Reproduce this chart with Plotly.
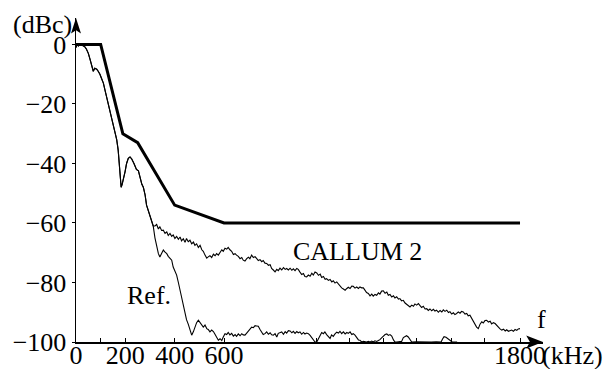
import plotly.graph_objects as go

# ---------------- data ----------------
# spectral mask (thick line)
mask_x = [0, 100, 190, 250, 400, 600, 1800]
mask_y = [0, 0, -30, -33, -54, -60, -60]

# part shared by both measured spectra
common_x = [0, 5, 10, 16, 25, 36, 42, 50, 57, 64, 70, 76, 84, 90, 97, 104, 111, 118, 124,
            131, 138, 145, 152, 158, 165, 171, 176, 180, 183, 187, 192, 199, 205, 212, 219,
            226, 235, 245, 253, 260, 267, 273, 280, 286, 293, 300, 307, 313]
common_y = [-1, 0, -0.5, 0, -0.3, -0.8, -1.5, -3, -5, -7.5, -9, -8, -8.3, -9, -10, -11.5, -13,
            -15.5, -17.6, -20, -22, -24.3, -26.5, -28.8, -32, -35.5, -41, -44.5, -48, -47,
            -45.5, -42.7, -40, -38.3, -37.8, -38.5, -40, -42, -42.5, -45, -47, -48, -50.5,
            -54, -55.7, -57.5, -59.6, -61]

# CALLUM 2 spectrum beyond the split
callum_x = [320, 327, 334, 340, 347, 354, 361, 368, 374, 381, 388, 394, 401, 408, 415, 422,
            428, 435, 442, 448, 455, 462, 469, 476, 482, 489, 496, 503, 510, 516, 523, 530,
            536, 543, 550, 557, 564, 570, 577, 584, 591, 597, 604, 611, 617, 624, 631, 638,
            645, 651, 658, 665, 672, 678, 685, 692, 699, 705, 712, 719, 726, 732, 739, 746,
            753, 759, 766, 773, 780, 787, 793, 800, 807, 814, 820, 827, 834, 841, 848, 854,
            861, 868, 875, 881, 888, 895, 901, 908, 915, 922, 928, 935, 942, 949, 956, 962,
            969, 976, 983, 990, 996, 1003, 1010, 1016, 1023, 1030, 1037, 1043, 1050, 1057,
            1064, 1070, 1077, 1084, 1091, 1098, 1104, 1111, 1118, 1124, 1131, 1138, 1145,
            1151, 1158, 1165, 1172, 1178, 1185, 1192, 1199, 1205, 1212, 1219, 1226, 1232,
            1239, 1246, 1253, 1260, 1266, 1273, 1280, 1287, 1293, 1300, 1307, 1313, 1320,
            1327, 1334, 1340, 1347, 1354, 1361, 1368, 1374, 1381, 1388, 1395, 1401, 1408,
            1415, 1422, 1428, 1435, 1442, 1449, 1455, 1462, 1469, 1476, 1483, 1489, 1496,
            1503, 1510, 1516, 1523, 1530, 1536, 1543, 1550, 1557, 1563, 1570, 1577, 1584,
            1590, 1597, 1604, 1611, 1617, 1624, 1631, 1638, 1645, 1651, 1658, 1665, 1672,
            1679, 1685, 1692, 1699, 1706, 1712, 1719, 1726, 1733, 1740, 1746, 1753, 1759,
            1766, 1773, 1780, 1787, 1793, 1800]
callum_y = [-61, -60.5, -62, -61.3, -62.5, -62.4, -63.5, -63, -64.2, -63.5, -64.5, -64, -65.2,
            -64.5, -65.5, -64.7, -66, -65.3, -66.5, -65.2, -66.3, -65.8, -67, -66.4, -67.5,
            -67, -68.2, -67.5, -69, -69.5, -70.8, -71.8, -71.4, -71, -71.6, -70.5, -71,
            -70.3, -70.8, -69.7, -69, -69.5, -68.5, -68.8, -68.2, -69, -69.5, -70.6, -70.3,
            -70.8, -71.2, -72, -71.6, -72.5, -72.8, -72, -71.5, -72, -70.8, -71.6, -71.3,
            -71.9, -72.6, -72.3, -73, -72.6, -73.5, -73.6, -74.2, -74, -75.3, -75.8, -76.4,
            -75.6, -76, -75.2, -75.8, -75, -75.6, -75.3, -75.8, -75.2, -75.9, -75.4, -76,
            -75.3, -75.6, -76.5, -77.3, -77, -78, -78.1, -77.5, -77.9, -76.9, -77.5, -76.5,
            -76.8, -77.6, -77.2, -78.3, -78, -78.9, -78.7, -79.3, -79, -79.8, -79.4, -80.2,
            -79.8, -80.6, -81, -81.8, -82.2, -82.6, -82, -81.6, -82, -81.2, -81.3, -81.9,
            -81.5, -82, -81.5, -81.8, -81.8, -82.6, -83.4, -83.7, -84.5, -83.9, -84.6, -84,
            -84.3, -83.5, -83.9, -82.9, -82.8, -83.6, -83.2, -84.3, -84, -84.9, -84.5, -85.2,
            -84.8, -85.6, -85.4, -86.2, -86, -86.9, -87.3, -87.8, -88.2, -87.6, -88, -87.2,
            -87.6, -87.1, -87.8, -88.4, -88, -88.9, -88.8, -89.4, -88.9, -89.5, -89, -89.6,
            -89.3, -90, -89.4, -89.9, -89.2, -89.7, -89.3, -90.1, -89.8, -90.6, -90.2, -90.8,
            -90.4, -89.9, -90.3, -89.7, -89.9, -90.6, -90.4, -91.2, -91, -92, -93.5, -94.2,
            -95, -95.5, -94, -93.2, -93.6, -92.8, -92.7, -93.3, -93, -93.9, -93.5, -93.8,
            -94.5, -95.2, -95.6, -96, -95.7, -96.3, -95.9, -96.4, -96.3, -96, -96.4, -95.8,
            -96.1, -95.6, -95.5]

# Reference spectrum beyond the split
ref_x = [320, 327, 334, 340, 347, 354, 361, 368, 374, 381, 388, 394, 401, 408, 415, 422, 428,
         435, 442, 448, 455, 462, 469, 476, 482, 489, 496, 503, 510, 516, 523, 530, 536, 543,
         550, 557, 564, 570, 577, 584, 591, 597, 604, 611, 617, 624, 631, 638, 645, 651, 658,
         665, 672, 678, 685, 692, 699, 705, 712, 719, 726, 732, 739, 746, 753, 759, 766, 773,
         780, 787, 793, 800, 807, 814, 820, 827, 834, 841, 848, 854, 861, 868, 875, 881, 888,
         895, 901, 908, 915, 922, 928, 935, 942, 949, 956, 962, 969, 976, 983, 990, 996, 1003,
         1009, 1016, 1023, 1030, 1036, 1043, 1050, 1057, 1064, 1070, 1077, 1084, 1091, 1098,
         1104, 1111, 1118, 1124, 1131, 1138, 1145, 1151, 1158, 1165, 1172, 1178, 1185, 1192,
         1199, 1205, 1212, 1219, 1226, 1232, 1240, 1246, 1253, 1260, 1266, 1273, 1280, 1287,
         1293, 1300, 1310, 1320, 1327, 1334, 1340, 1347, 1354, 1361, 1380, 1400, 1420, 1440,
         1460, 1480, 1486, 1492, 1500, 1508, 1516, 1525, 1545]
ref_y = [-65, -68, -70.3, -71.4, -70, -69.1, -69.8, -70.3, -71.2, -72, -72.5, -74.8, -76,
         -77.5, -80, -82.5, -85, -88, -90, -92.5, -94, -95.5, -97.7, -96.5, -95, -93.5, -92.7,
         -93.5, -94.5, -95, -94.3, -95.5, -95.8, -96.6, -96, -96.5, -97.5, -98.3, -99.4,
         -98.9, -99.5, -98.3, -97.2, -97.5, -96.8, -97.6, -97.1, -98, -97.5, -98.1, -97.3,
         -97.9, -97.2, -97.6, -97.7, -97, -96.3, -95.5, -95, -95.2, -94.5, -94.6, -94.7,
         -95.8, -96.8, -97.5, -97.2, -96.6, -97.4, -96.9, -97.6, -97.7, -97.2, -98.3, -97.1,
         -96.8, -96.6, -97.4, -96.5, -97, -96.2, -96.3, -96.9, -96.4, -97.1, -96.5, -96.9,
         -96.6, -97.4, -96.8, -97.3, -97, -97.2, -97.8, -98.6, -99.5, -100, -100, -98.8,
         -97.5, -96.8, -97.2, -96.6, -97.5, -98.2, -98.8, -97.6, -98.1, -97.3, -96.7, -97,
         -96.4, -97.2, -96.6, -97.3, -96.8, -97.1, -96.6, -97.5, -97.2, -97.7, -98.6, -99.3,
         -99.4, -100, -99.8, -100, -100, -99.8, -100, -99.7, -100, -99.6, -99.8, -99.5,
         -99.2, -98.5, -98, -97.5, -97.3, -97.8, -97.5, -98, -99.3, -100, -100, -100, -99.8,
         -98.5, -98, -97.9, -98.3, -99.2, -100, -99.9, -100, -99.9, -100, -99.9, -100, -99,
         -98.2, -98.4, -99, -99.6, -100, -100]

# axis ticks
x_tick_vals = [0, 100, 200, 400, 600, 973, 1108, 1245, 1380, 1522, 1657, 1800]
x_tick_text = ["0", "", "200", "400", "600", "", "", "", "", "", "", "1800"]
y_tick_vals = [0, -20, -40, -60, -80, -100]
y_tick_text = ["0", "\u221220", "\u221240", "\u221260", "\u221280", "\u2212100"]

# ---------------- figure ----------------
FONT = "Liberation Serif"
TXT = dict(family=FONT, size=26, color="black")
fig = go.Figure()
fig.add_trace(go.Scatter(x=mask_x, y=mask_y, mode="lines",
                         line=dict(color="black", width=3), hoverinfo="skip"))
fig.add_trace(go.Scatter(x=common_x + callum_x, y=common_y + callum_y, mode="lines",
                         line=dict(color="black", width=1.1), hoverinfo="skip"))
fig.add_trace(go.Scatter(x=common_x + ref_x, y=common_y + ref_y, mode="lines",
                         line=dict(color="black", width=1.1), hoverinfo="skip"))

fig.update_layout(
    width=605, height=369,
    margin=dict(l=76, r=62, t=18, b=27),
    paper_bgcolor="white", plot_bgcolor="white",
    showlegend=False,
    font=TXT,
)
fig.update_xaxes(range=[0, 1893.2], showline=True, linecolor="black", linewidth=1.5,
                 showgrid=False, zeroline=False, ticks="inside", ticklen=4, tickwidth=1,
                 tickcolor="black", tickvals=x_tick_vals, ticktext=x_tick_text, tickangle=0,
                 tickfont=TXT, automargin=False, ticklabelstandoff=-11)
fig.update_yaxes(range=[-100, 8.9], showline=True, linecolor="black", linewidth=1.5,
                 showgrid=False, zeroline=False, ticks="outside", ticklen=3, tickwidth=1,
                 tickcolor="black", tickvals=y_tick_vals, ticktext=y_tick_text,
                 tickfont=TXT, automargin=False)

# axis arrow heads
fig.add_shape(type="path", xref="paper", yref="paper",
              path="M 1,0 L 0.964,0.0204 L 0.972,0 L 0.964,-0.0204 Z",
              fillcolor="black", line=dict(width=0))
fig.add_shape(type="path", xref="paper", yref="paper",
              path="M 0,1 L -0.0107,0.952 L 0,0.962 L 0.0107,0.952 Z",
              fillcolor="black", line=dict(width=0))

fig.add_annotation(text="(dBc)", xref="paper", yref="paper", x=-0.0717, y=0.974, yshift=2,
                   showarrow=False, xanchor="center", yanchor="middle", font=TXT)
fig.add_annotation(text="(kHz)", xref="paper", yref="paper", x=1.0, y=-0.043, xshift=-3,
                   showarrow=False, xanchor="left", yanchor="middle", font=TXT)
fig.add_annotation(text="f", xref="paper", yref="paper", x=0.996, y=0.068,
                   showarrow=False, xanchor="center", yanchor="middle", font=TXT)
fig.add_annotation(text="CALLUM 2", xref="x", yref="y", x=1141, y=-69.6,
                   showarrow=False, xanchor="center", yanchor="middle", font=TXT)
fig.add_annotation(text="Ref.", xref="x", yref="y", x=294, y=-84.5,
                   showarrow=False, xanchor="center", yanchor="middle", font=TXT)

fig.write_html("out.html",
               config={"displayModeBar": False, "staticPlot": True},
               post_script="document.body.style.margin='0';"
                           "document.body.style.overflow='hidden';")
